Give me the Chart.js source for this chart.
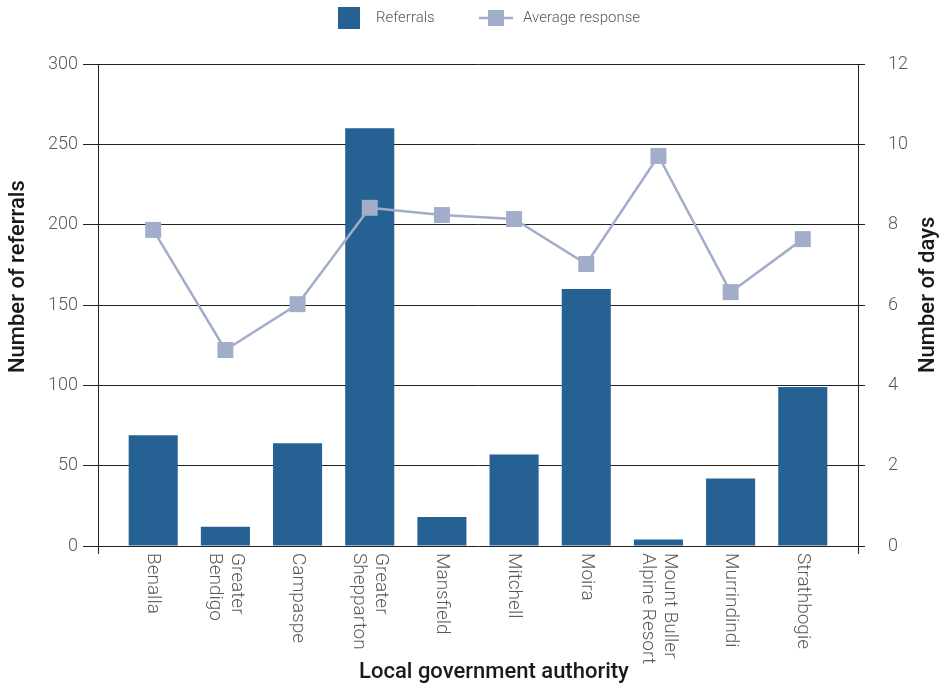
<!DOCTYPE html>
<html>
<head>
<meta charset="utf-8">
<script src="https://cdn.jsdelivr.net/npm/chart.js@4.4.1/dist/chart.umd.min.js"></script>
<style>
  html, body { margin: 0; padding: 0; background: #fff; }
  #wrap { width: 940px; height: 685px; }
</style>
</head>
<body>
<div id="wrap"><canvas id="lgaChart" width="940" height="685"></canvas></div>
<script>
// data
var categories=[ [ "Benalla" ], [ "Greater", "Bendigo" ], [ "Campaspe" ], [ "Greater", "Shepparton" ], [ "Mansfield" ],
        [ "Mitchell" ], [ "Moira" ], [ "Mount Buller", "Alpine Resort" ], [ "Murrindindi" ], [ "Strathbogie" ] ];
var referrals=[ 69, 12, 64, 260, 18, 57, 160, 4, 42, 99 ];
var avgResponse=[ 7.87, 4.88, 6.02, 8.42, 8.24, 8.14, 7.02, 9.71, 6.32, 7.64 ];
var leftTicks=[ 0, 50, 100, 150, 200, 250, 300 ];
var rightTicks=[ 0, 2, 4, 6, 8, 10, 12 ];

var barColor='#256193';
var lineColor='#a2adc9';
var axisColor='#222222';
var labelColor='#595959';

// Excel-style extras: clockwise category labels, titles, legend
var decor={
        id: 'decor',
        afterDraw: function ( chart )
        {
                var c=chart.ctx, a=chart.chartArea, xs=chart.scales.x;
                c.save();

                // axis stubs below the baseline
                c.strokeStyle=axisColor;
                c.lineWidth=1;
                c.beginPath();
                c.moveTo( Math.round( a.left )+0.5, a.bottom );
                c.lineTo( Math.round( a.left )+0.5, a.bottom+8 );
                c.moveTo( Math.round( a.right )+0.5, a.bottom );
                c.lineTo( Math.round( a.right )+0.5, a.bottom+8 );
                c.stroke();

                // category labels
                c.font='300 19px Roboto';
                c.fillStyle=labelColor;
                c.textAlign='left';
                c.textBaseline='middle';
                categories.forEach( function ( lines, i )
                {
                        var px=xs.getPixelForValue( i );
                        c.save();
                        c.translate( px, a.bottom+7 );
                        c.rotate( Math.PI/2 );
                        lines.forEach( function ( t, k )
                        {
                                c.fillText( t, 0, ( k-( lines.length-1 )/2 )*22 );
                        } );
                        c.restore();
                } );

                // axis titles
                c.font='500 22px Roboto';
                c.fillStyle='#1a1a1a';
                c.textAlign='center';
                c.fillText( 'Local government authority', 494, 672 );
                c.textAlign='left';
                [ [ 'Number of referrals', 18 ], [ 'Number of days', 928 ] ].forEach( function ( t )
                {
                        c.save();
                        c.translate( t[ 1 ], 373 );
                        c.rotate( -Math.PI/2 );
                        c.fillText( t[ 0 ], 0, 0 );
                        c.restore();
                } );

                // legend
                c.fillStyle=barColor;
                c.fillRect( 338, 7, 22, 22 );
                c.strokeStyle=lineColor;
                c.lineWidth=2.5;
                c.beginPath();
                c.moveTo( 479, 18 );
                c.lineTo( 513, 18 );
                c.stroke();
                c.fillStyle=lineColor;
                c.fillRect( 488, 10, 16, 16 );
                c.font='300 15px Roboto';
                c.fillStyle=labelColor;
                c.textBaseline='middle';
                c.fillText( 'Referrals', 376, 18 );
                c.fillText( 'Average response', 523, 18 );
                c.restore();
        }
};

var ctx=document.getElementById( 'lgaChart' ).getContext( '2d' );
var lgaChart=new Chart( ctx, {
        type: 'bar',
        plugins: [ decor ],
        data: {
                datasets: [ {
                        type: 'line',
                        label: 'Average response',
                        data: avgResponse.map( function ( v, i ) { return { x: i, y: v }; } ),
                        yAxisID: 'y1',
                        borderColor: lineColor,
                        borderWidth: 2.5,
                        backgroundColor: lineColor,
                        pointStyle: 'rect',
                        pointRadius: 11.3,
                        pointBorderWidth: 0,
                        pointBackgroundColor: lineColor,
                        tension: 0,
                        order: 0
                },
                {
                        label: 'Referrals',
                        data: referrals.map( function ( v, i ) { return { x: i, y: v }; } ),
                        yAxisID: 'y',
                        backgroundColor: barColor,
                        borderWidth: 0,
                        barPercentage: 0.68,
                        categoryPercentage: 1,
                        order: 1
                } ]
        },
        options: {
                responsive: false,
                animation: false,
                devicePixelRatio: 1,
                layout: { padding: { top: 64, left: 0, right: 0, bottom: 0 } },
                plugins: {
                        legend: { display: false },
                        tooltip: { enabled: false }
                },
                scales: {
                        x: {
                                type: 'linear',
                                offset: false,
                                min: -0.765,
                                max: 9.765,
                                ticks: { display: false },
                                grid: { display: false, offset: false },
                                border: { display: false },
                                afterFit: function ( s ) { s.height=139; }
                        },
                        y: {
                                position: 'left',
                                min: 0,
                                max: 300,
                                afterBuildTicks: function ( s ) { s.ticks=leftTicks.map( function ( v ) { return { value: v }; } ); },
                                afterFit: function ( s ) { s.width=98; },
                                ticks: {
                                        color: labelColor,
                                        padding: 5,
                                        font: { family: 'Roboto', size: 18, weight: '300' }
                                },
                                grid: { color: axisColor, lineWidth: 1, tickLength: 15 },
                                border: { display: true, color: axisColor, width: 1 }
                        },
                        y1: {
                                position: 'right',
                                min: 0,
                                max: 12,
                                afterBuildTicks: function ( s ) { s.ticks=rightTicks.map( function ( v ) { return { value: v }; } ); },
                                afterFit: function ( s ) { s.width=82; },
                                ticks: {
                                        color: labelColor,
                                        padding: 23,
                                        font: { family: 'Roboto', size: 18, weight: '300' }
                                },
                                grid: { color: axisColor, lineWidth: 1, tickLength: 7, drawOnChartArea: false },
                                border: { display: true, color: axisColor, width: 1 }
                        }
                }
        }
} );
</script>
</body>
</html>
